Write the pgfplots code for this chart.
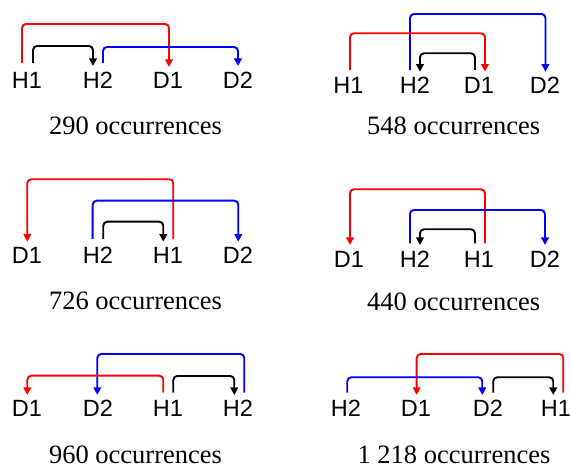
\documentclass[border=0pt]{standalone}
\usepackage{fontspec}
\setmainfont{Liberation Serif}
\newfontfamily\arial{Liberation Sans}
\usepackage{pgfplots}
\pgfplotsset{compat=1.18}
\usetikzlibrary{arrows.meta}
\tikzset{
  mylab/.style={font=\arial\fontsize{23.5}{27}\selectfont, anchor=base, inner sep=0pt},
  mycapt/.style={font=\fontsize{26.5}{30}\selectfont, anchor=base, inner sep=0pt},
}
\pgfplotsset{
  conn/.style={line width=1.9pt, rounded corners=4pt, mark=none, -{Triangle[length=7.5pt,width=7.5pt]}},
}
\begin{document}
\begin{tikzpicture}
\begin{axis}[
  width=571pt, height=468pt, scale only axis,
  xmin=0, xmax=571, ymin=0, ymax=468, y dir=reverse,
  axis lines=box, axis line style={draw=none}, ticks=none, clip=false,
]
% Panel 1
\addplot[conn, red]   coordinates {(22,63) (22,24) (169,24) (169,67)};
\addplot[conn, black] coordinates {(33,63) (33,46) (93,46) (93,66)};
\addplot[conn, blue]  coordinates {(103,63) (103,47) (238,47) (238,66)};
\node[mylab] at (axis cs:27,89) {H1};
\node[mylab] at (axis cs:98,89) {H2};
\node[mylab] at (axis cs:168,89) {D1};
\node[mylab] at (axis cs:238,89) {D2};
\node[mycapt] at (axis cs:135.5,135) {290 occurrences};
% Panel 2
\addplot[conn, blue]  coordinates {(410,70) (410,14) (545.5,14) (545.5,71.7)};
\addplot[conn, red]   coordinates {(350,70) (350,33.3) (485,33.3) (485,71.7)};
\addplot[conn, black] coordinates {(475,70) (475,53.3) (420,53.3) (420,71.7)};
\node[mylab] at (axis cs:348.5,93.3) {H1};
\node[mylab] at (axis cs:415,93.3) {H2};
\node[mylab] at (axis cs:479,93.3) {D1};
\node[mylab] at (axis cs:545,93.3) {D2};
\node[mycapt] at (axis cs:453.7,135) {548 occurrences};
% Panel 3
\addplot[conn, red]   coordinates {(173.3,239) (173.3,179.3) (27.3,179.3) (27.3,241.7)};
\addplot[conn, blue]  coordinates {(92.7,239) (92.7,200.7) (238.3,200.7) (238.3,241.7)};
\addplot[conn, black] coordinates {(103.3,239) (103.3,221.7) (163.3,221.7) (163.3,241.7)};
\node[mylab] at (axis cs:27,263.5) {D1};
\node[mylab] at (axis cs:98,263.5) {H2};
\node[mylab] at (axis cs:168,263.5) {H1};
\node[mylab] at (axis cs:238,263.5) {D2};
\node[mycapt] at (axis cs:135.5,310) {726 occurrences};
% Panel 4
\addplot[conn, red]   coordinates {(485,243.3) (485,189.3) (350,189.3) (350,245)};
\addplot[conn, blue]  coordinates {(410,243.3) (410,210) (545,210) (545,245)};
\addplot[conn, black] coordinates {(475,243.3) (475,229.3) (420,229.3) (420,245)};
\node[mylab] at (axis cs:349,268) {D1};
\node[mylab] at (axis cs:415,268) {H2};
\node[mylab] at (axis cs:479,268) {H1};
\node[mylab] at (axis cs:545,268) {D2};
\node[mycapt] at (axis cs:453.7,310.5) {440 occurrences};
% Panel 5
\addplot[conn, blue]  coordinates {(244.3,392.7) (244.3,354) (97.3,354) (97.3,395)};
\addplot[conn, red]   coordinates {(163.3,392.7) (163.3,375.7) (27.3,375.7) (27.3,395)};
\addplot[conn, black] coordinates {(173.3,392.7) (173.3,376) (234.3,376) (234.3,395)};
\node[mylab] at (axis cs:27,417) {D1};
\node[mylab] at (axis cs:98,417) {D2};
\node[mylab] at (axis cs:168,417) {H1};
\node[mylab] at (axis cs:238,417) {H2};
\node[mycapt] at (axis cs:135.5,463.5) {960 occurrences};
% Panel 6
\addplot[conn, red]   coordinates {(563.3,392.7) (563.3,354) (416.7,354) (416.7,395)};
\addplot[conn, blue]  coordinates {(347.3,392.7) (347.3,377.3) (482.3,377.3) (482.3,395)};
\addplot[conn, black] coordinates {(493.3,392.7) (493.3,377.3) (553.3,377.3) (553.3,395)};
\node[mylab] at (axis cs:346,417) {H2};
\node[mylab] at (axis cs:416,417) {D1};
\node[mylab] at (axis cs:488,417) {D2};
\node[mylab] at (axis cs:556,417) {H1};
\node[mycapt] at (axis cs:454,463.5) {1 218 occurrences};
\end{axis}
\end{tikzpicture}
\end{document}
